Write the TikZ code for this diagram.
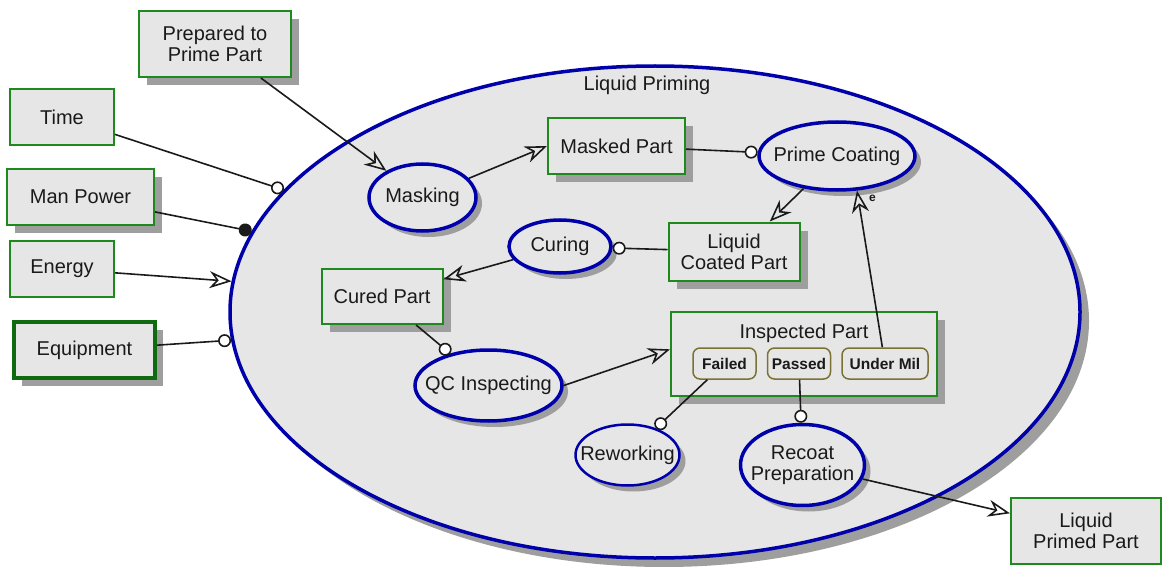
\documentclass[tikz,border=0pt]{standalone}
\usepackage{fontspec}
\setmainfont{Liberation Sans}
\usepackage{xcolor}
\definecolor{cFill}{HTML}{E6E6E6}
\definecolor{cObj}{HTML}{1E8A1E}
\definecolor{cObjDark}{HTML}{106A10}
\definecolor{cProc}{HTML}{0000AA}
\definecolor{cState}{HTML}{7A7233}
\definecolor{cShade}{HTML}{9E9E9E}
\definecolor{cInk}{HTML}{1A1A1A}
\usepackage{tikz}
\usetikzlibrary{positioning,arrows.meta,shapes.geometric}
\tikzset{
  node-obj/.style={rectangle,draw=cObj,line width=2pt,fill=cFill,
    align=center,text=cInk},
  node-obj-env/.style={draw=cObjDark,line width=4pt},
  % physical things get a hard grey shadow, informatical ones none
  node-shadow/.style={preaction={draw=none,fill=cShade,
    transform canvas={xshift=#1,yshift=-#1}}},
  node-shadow/.default=8pt,
  node-proc/.style={ellipse,draw=cProc,line width=3.5pt,fill=cFill,
    inner sep=-30pt,align=center,text=cInk},
  node-state/.style={rectangle,draw=cState,line width=1.5pt,fill=cFill,
    rounded corners=7pt,minimum height=31pt,text=cInk,
    font=\fontsize{15.5}{16}\selectfont\bfseries},
  arrow-result/.style={-{Stealth[open,length=22pt,width=17pt,inset=7pt]},
    line width=1.6pt,draw=cInk},
  arrow-instr/.style={-{Circle[fill=white,length=13pt]},line width=1.6pt,draw=cInk},
  arrow-agent/.style={-{Circle[fill=cInk,length=13pt]},line width=1.6pt,draw=cInk},
}

\begin{document}
\begin{tikzpicture}[x=1pt,y=-1pt,node distance=10pt,
  every node/.style={inner sep=0pt,font=\fontsize{20}{21}\selectfont}]
  \useasboundingbox (0,0) rectangle (1165,567);

  % in-zoomed process
  \node[node-proc,node-shadow=9pt,minimum width=850pt,minimum height=492pt]
    (lp) at (655,312) {};
  \node[text=cInk] (lp-title) at (647,85) {Liquid Priming};

  % environment
  \node[node-obj,node-shadow,minimum width=152pt,minimum height=66pt] (prep) at (215,44) {Prepared to\\Prime Part};
  \node[node-obj,minimum width=104pt,minimum height=56pt] (time) at (62,117) {Time};
  \node[node-obj,node-shadow,minimum width=147pt,minimum height=56pt] (mp) at (80.5,197) {Man Power};
  \node[node-obj,minimum width=104pt,minimum height=56pt] (energy) at (62,269) {Energy};
  \node[node-obj,node-obj-env,node-shadow,minimum width=141pt,minimum height=56pt] (equip) at (84.5,350) {Equipment};
  \node[node-obj,minimum width=150pt,minimum height=66pt] (lpp) at (1086,531) {Liquid\\Primed Part};

  % objects inside
  \node[node-obj,node-shadow,minimum width=137pt,minimum height=56pt] (masked) at (616.5,146) {Masked Part};
  \node[node-obj,node-shadow,minimum width=131pt,minimum height=58pt] (lcp) at (734,251.5) {Liquid\\Coated Part};
  \node[node-obj,node-shadow,minimum width=121pt,minimum height=55pt] (cured) at (382,296.5) {Cured Part};
  \node[node-obj,node-shadow,minimum width=266pt,minimum height=84pt] (ip) at (804,354) {};
  \node[text=cInk,below=13pt of ip.north] (ip-title) {Inspected Part};
  \node[node-state,minimum width=63pt] (failed) at (724.5,363.5) {Failed};
  \node[node-state,minimum width=63pt,right=of failed] (passed) {Passed};
  \node[node-state,minimum width=86pt,right=of passed] (undermil) {Under Mil};

  % sub-processes
  \node[node-proc,node-shadow=6pt,minimum width=107pt,minimum height=67pt] (masking) at (422.5,197.5) {Masking};
  \node[node-proc,node-shadow=6pt,minimum width=156pt,minimum height=68pt] (pc) at (837,156) {Prime Coating};
  \node[node-proc,node-shadow=6pt,minimum width=102pt,minimum height=53pt] (curing) at (560,246.5) {Curing};
  \node[node-proc,node-shadow=6pt,minimum width=147pt,minimum height=71pt] (qc) at (488.5,385.5) {QC Inspecting};
  \node[node-proc,node-shadow=6pt,line width=2.5pt,minimum width=104pt,minimum height=61pt] (rework) at (627.5,455) {Reworking};
  \node[node-proc,node-shadow=6pt,minimum width=124pt,minimum height=81pt] (recoat) at (802.5,465) {Recoat\\Preparation};

  \draw[arrow-result] (prep) -- (masking);
  \draw[arrow-instr] (time) -- (lp);
  \draw[arrow-agent] (mp) -- (lp);
  \draw[arrow-result] (energy) -- (lp);
  \draw[arrow-instr] (equip) -- (lp);
  \draw[arrow-result] (masking) -- (masked.west);
  \draw[arrow-instr] (masked) -- (pc);
  \draw[arrow-result] (pc) -- (lcp.40);
  \draw[arrow-instr] (lcp) -- (curing);
  \draw[arrow-result] (curing) -- (cured);
  \draw[arrow-instr] (cured) -- (qc);
  \draw[arrow-result] (qc.east) -- (ip.178);
  \draw[arrow-instr] (failed) -- (rework);
  \draw[arrow-instr] (passed) -- (recoat);
  \draw[arrow-result] (undermil) -- node[pos=0.95,right=10pt,text=cInk,
    font=\fontsize{12}{12}\selectfont\bfseries] (ev) {e} (pc.300);
  \draw[arrow-result] (recoat) -- (lpp);
\end{tikzpicture}
\end{document}
